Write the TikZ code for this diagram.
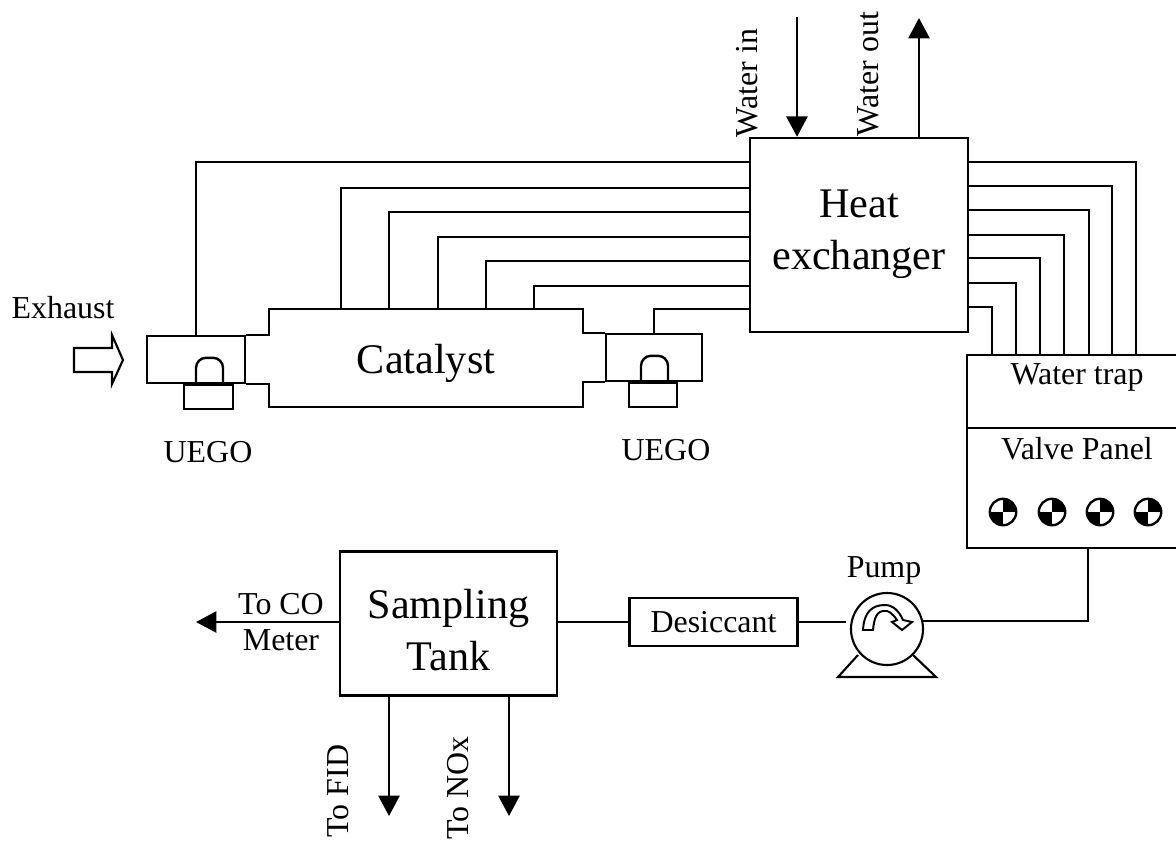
\documentclass[tikz,border=0pt]{standalone}
\usepackage{fontspec}
\setmainfont{Liberation Serif}
\usetikzlibrary{arrows.meta,positioning,calc}
\tikzset{
  unitbox/.style={draw,inner sep=0pt},
  biglab/.style={inner sep=0pt,align=center,font=\bigfont},
  lab/.style={inner sep=0pt,align=center,font=\smallfont},
  vlab/.style={inner sep=0pt,font=\smallfont,rotate=90},
  pipe/.style={-{Triangle[length=14.5pt,width=15pt]}},
  valve/.style={circle,draw,line width=1.7pt,minimum size=0.66cm,inner sep=0pt,
    path picture={
      \fill (path picture bounding box.center) rectangle (path picture bounding box.north east);
      \fill (path picture bounding box.center) rectangle (path picture bounding box.south west);
    }},
}
\newcommand{\bigfont}{\fontsize{30}{37}\selectfont}
\newcommand{\smallfont}{\fontsize{22.7}{26}\selectfont}
\begin{document}
\begin{tikzpicture}[x=0.025cm,y=-0.025cm,line width=1.7pt]
  \useasboundingbox (0,0) rectangle (1176,844);
  \node[unitbox,minimum width=5.45cm,minimum height=4.85cm] (hx) at (859,235) {};
  \node[biglab] (hxlab) at (859,234) {Heat\\exchanger};
  \node[inner sep=0pt,minimum width=7.8cm,minimum height=2.4cm] (cat) at (426,358) {};
  \node[biglab] (catlab) at (426,363) {Catalyst};
  \node[unitbox,minimum width=2.45cm,minimum height=1.17cm] (inl) at (196,359.5) {};
  \node[unitbox,minimum width=2.4cm,minimum height=1.17cm] (outl) at (654,357.5) {};
  \node[unitbox,minimum width=1.22cm,minimum height=0.6cm] (senl) at (208.5,397) {};
  \node[unitbox,minimum width=1.2cm,minimum height=0.6cm] (senr) at (653,395) {};
  \node[lab] (uegol) at (208,452) {UEGO};
  \node[lab] (uegor) at (666,450) {UEGO};
  \node[lab] (exh) at (63,308) {Exhaust};
  \draw (inl.north east) -| (cat.north west) -- (cat.north east) |- (outl.north west);
  \draw (inl.south east) -| (cat.south west) -- (cat.south east) |- (outl.south west);
  \draw (senl.north -| 196,0) -- ++(0,-16) arc (180:270:10) -- ++(7,0) arc (270:360:10) -- (senl.north -| 223,0);
  \draw (senr.north -| 641,0) -- ++(0,-16) arc (180:270:10) -- ++(7,0) arc (270:360:10) -- (senr.north -| 668,0);
  \draw[line width=1.5pt] (74,348) -- (112,348) -- (112,335) -- (123,360) -- (112,384) -- (112,372) -- (74,372) -- cycle;
  \draw (inl.north) |- (hx.west |- 0,162);
  \foreach \x/\y in {341/188,389/212,438/237,486/261,534/286} \draw (cat.north -| \x,0) |- (hx.west |- 0,\y);
  \draw (outl.north) |- (hx.west |- 0,309);
  \node[unitbox,minimum width=5.6cm,minimum height=1.82cm] (trap) at (1079,391.5) {};
  \node[unitbox,minimum width=5.6cm,minimum height=3cm] (panel) at (1079,488) {};
  \node[lab] (traplab) at (1077,377) {Water trap};
  \node[lab] (vp) at (1077,449) {Valve Panel};
  \foreach \x/\y in {992/307,1016/283,1040/258,1064/235,1089/210,1112/186,1136/162} \draw (trap.north -| \x,0) |- (hx.east |- 0,\y);
  \foreach \n/\x in {1/1003,2/1052,3/1100,4/1148} \node[valve] (v\n) at (\x,512) {};
  \node[unitbox,minimum width=5.42cm,minimum height=3.6cm] (tank) at (448.5,623.5) {};
  \node[biglab] (tanklab) at (448.5,630) {Sampling\\Tank};
  \node[unitbox,minimum width=4.2cm,minimum height=1.2cm] (des) at (713.5,622) {};
  \node[lab] (deslab) at (des) {Desiccant};
  \node[circle,draw,line width=1.5pt,minimum size=1.8cm,inner sep=0pt] (pump) at (887,629) {};
  \node[lab] (plab) at (884,570) {Pump};
  \draw[line width=1.5pt] (858,655) -- (838,677) -- (936,677) -- (913,655);
  \draw[line width=1.4pt] (863,630) .. controls (864,612) and (872,605) .. (885,605) .. controls (893,605) and (899,611) .. (903,620) -- (912,622) -- (902,630) -- (892,622) -- (897,620) .. controls (892,613) and (888,610) .. (884,611) .. controls (877,611) and (874,618) .. (873,630) -- cycle;
  \coordinate (pin) at (923,621);
  \coordinate (pleft) at (846,622);
  \draw (panel.south -| 1088,0) |- (pin);
  \draw (pleft) -- (des.east);
  \draw (des.west) -- (tank.east |- des.west);
  \coordinate (co) at (196,622);
  \coordinate (fid) at (389,816);
  \coordinate (nox) at (509,816);
  \coordinate (win) at (797,17);
  \coordinate (wout) at (919,18);
  \draw[pipe] (tank.west |- co) -- (co);
  \draw[pipe] (tank.south -| fid) -- (fid);
  \draw[pipe] (tank.south -| nox) -- (nox);
  \draw[pipe] (win) -- (hx.north -| win);
  \draw[pipe] (hx.north -| wout) -- (wout);
  \node[lab] (colab) at (281,622) {To CO\\Meter};
  \node[vlab] (wilab) at (747,83) {Water in};
  \node[vlab] (wolab) at (868,74) {Water out};
  \node[vlab] (fidlab) at (338,791) {To FID};
  \node[vlab] (noxlab) at (458,788) {To NOx};
\end{tikzpicture}
\end{document}
